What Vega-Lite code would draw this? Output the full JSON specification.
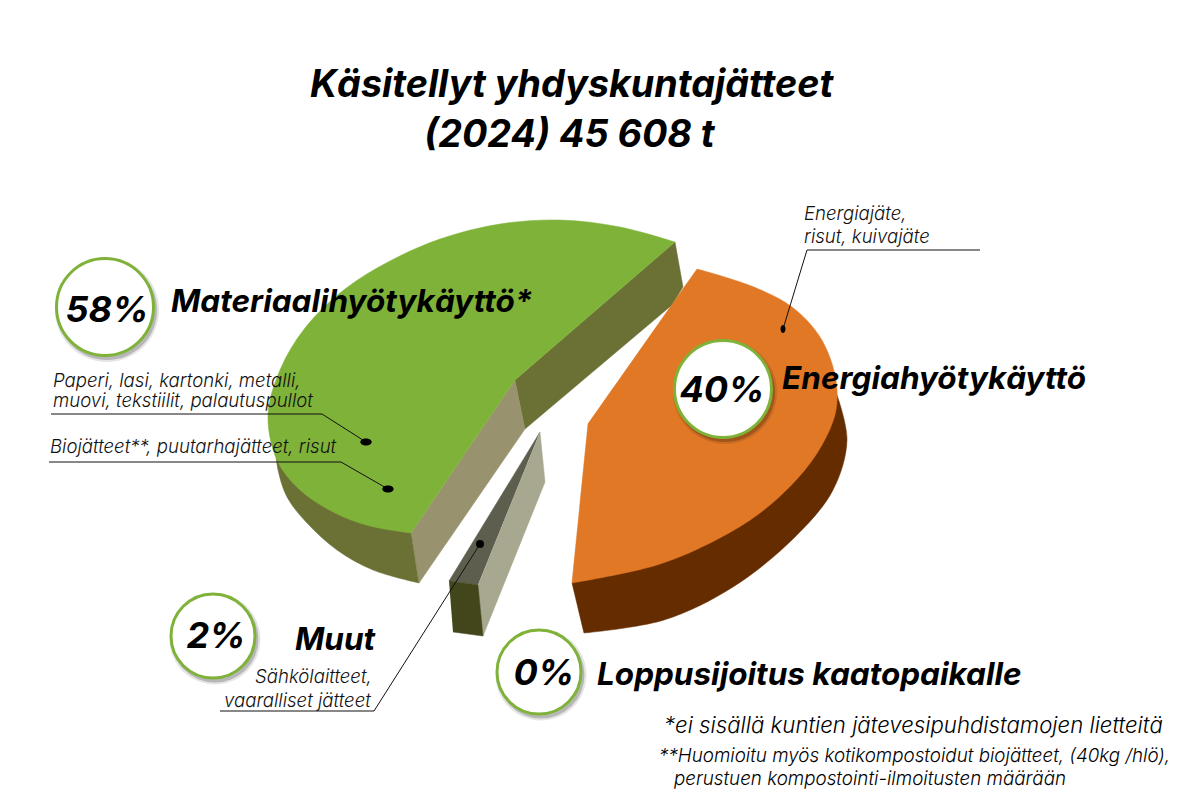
{
"$schema":"https://vega.github.io/schema/vega-lite/v6.json",
"width":1186,"height":806,"padding":0,"autosize":"none","background":"white",
"config":{"view":{"stroke":null}},
"datasets":{
"flats":[
{"part":"green cut front","seq":1,"px":411,"py":533},{"part":"green cut front","seq":2,"px":515,"py":380},{"part":"green cut front","seq":3,"px":525,"py":429},{"part":"green cut front","seq":4,"px":419,"py":583},
{"part":"green cut back","seq":1,"px":515,"py":380},{"part":"green cut back","seq":2,"px":675,"py":242},{"part":"green cut back","seq":3,"px":683,"py":287},{"part":"green cut back","seq":4,"px":672,"py":305},{"part":"green cut back","seq":5,"px":525,"py":429},
{"part":"sliver top","seq":1,"px":540,"py":432},{"part":"sliver top","seq":2,"px":449,"py":581},{"part":"sliver top","seq":3,"px":478,"py":585},
{"part":"sliver side","seq":1,"px":540,"py":432},{"part":"sliver side","seq":2,"px":545,"py":482},{"part":"sliver side","seq":3,"px":483,"py":636},{"part":"sliver side","seq":4,"px":478,"py":585},
{"part":"sliver front","seq":1,"px":449,"py":581},{"part":"sliver front","seq":2,"px":478,"py":585},{"part":"sliver front","seq":3,"px":483,"py":636},{"part":"sliver front","seq":4,"px":453,"py":632}
],
"polygons":[
{"part":"green side","seq":1,"px":276,"py":455},{"part":"green side","seq":2,"px":276,"py":455},{"part":"green side","seq":3,"px":276,"py":455},{"part":"green side","seq":4,"px":411,"py":533},{"part":"green side","seq":5,"px":411,"py":533},{"part":"green side","seq":6,"px":411,"py":533},{"part":"green side","seq":7,"px":419,"py":583},{"part":"green side","seq":8,"px":419,"py":583},{"part":"green side","seq":9,"px":419,"py":583},{"part":"green side","seq":10,"px":373,"py":570},{"part":"green side","seq":11,"px":337,"py":550},{"part":"green side","seq":12,"px":307,"py":523},{"part":"green side","seq":13,"px":287,"py":497},{"part":"green side","seq":14,"px":278,"py":470},{"part":"green side","seq":15,"px":276,"py":455},{"part":"green side","seq":16,"px":276,"py":455},
{"part":"green top","seq":1,"px":515,"py":380},{"part":"green top","seq":2,"px":515,"py":380},{"part":"green top","seq":3,"px":515,"py":380},{"part":"green top","seq":4,"px":675,"py":242},{"part":"green top","seq":5,"px":675,"py":242},{"part":"green top","seq":6,"px":675,"py":242},{"part":"green top","seq":7,"px":620,"py":227},{"part":"green top","seq":8,"px":560,"py":220},{"part":"green top","seq":9,"px":500,"py":224},{"part":"green top","seq":10,"px":440,"py":239},{"part":"green top","seq":11,"px":390,"py":261},{"part":"green top","seq":12,"px":345,"py":289},{"part":"green top","seq":13,"px":305,"py":328},{"part":"green top","seq":14,"px":280,"py":370},{"part":"green top","seq":15,"px":268,"py":415},{"part":"green top","seq":16,"px":277,"py":460},{"part":"green top","seq":17,"px":300,"py":490},{"part":"green top","seq":18,"px":335,"py":513},{"part":"green top","seq":19,"px":370,"py":526},{"part":"green top","seq":20,"px":411,"py":533},{"part":"green top","seq":21,"px":411,"py":533},{"part":"green top","seq":22,"px":411,"py":533},{"part":"green top","seq":23,"px":515,"py":380},{"part":"green top","seq":24,"px":515,"py":380},{"part":"green top","seq":25,"px":515,"py":380},
{"part":"orange side","seq":1,"px":572,"py":583},{"part":"orange side","seq":2,"px":572,"py":583},{"part":"orange side","seq":3,"px":572,"py":583},{"part":"orange side","seq":4,"px":584,"py":633},{"part":"orange side","seq":5,"px":584,"py":633},{"part":"orange side","seq":6,"px":584,"py":633},{"part":"orange side","seq":7,"px":664,"py":620},{"part":"orange side","seq":8,"px":733,"py":587},{"part":"orange side","seq":9,"px":795,"py":537},{"part":"orange side","seq":10,"px":833,"py":490},{"part":"orange side","seq":11,"px":847,"py":440},{"part":"orange side","seq":12,"px":837,"py":395},{"part":"orange side","seq":13,"px":837,"py":395},{"part":"orange side","seq":14,"px":837,"py":395},{"part":"orange side","seq":15,"px":572,"py":583},{"part":"orange side","seq":16,"px":572,"py":583},{"part":"orange side","seq":17,"px":572,"py":583},
{"part":"orange top","seq":1,"px":697,"py":269},{"part":"orange top","seq":2,"px":697,"py":269},{"part":"orange top","seq":3,"px":697,"py":269},{"part":"orange top","seq":4,"px":754,"py":287},{"part":"orange top","seq":5,"px":792,"py":307},{"part":"orange top","seq":6,"px":820,"py":337},{"part":"orange top","seq":7,"px":835,"py":375},{"part":"orange top","seq":8,"px":836,"py":410},{"part":"orange top","seq":9,"px":822,"py":445},{"part":"orange top","seq":10,"px":798,"py":478},{"part":"orange top","seq":11,"px":760,"py":513},{"part":"orange top","seq":12,"px":716,"py":540},{"part":"orange top","seq":13,"px":657,"py":565},{"part":"orange top","seq":14,"px":572,"py":583},{"part":"orange top","seq":15,"px":572,"py":583},{"part":"orange top","seq":16,"px":572,"py":583},{"part":"orange top","seq":17,"px":588,"py":424},{"part":"orange top","seq":18,"px":588,"py":424},{"part":"orange top","seq":19,"px":588,"py":424},{"part":"orange top","seq":20,"px":697,"py":269},{"part":"orange top","seq":21,"px":697,"py":269},{"part":"orange top","seq":22,"px":697,"py":269}
],
"leaders":[
{"id":"paperi","seq":1,"px":51,"py":414},{"id":"paperi","seq":2,"px":322,"py":414},{"id":"paperi","seq":3,"px":366,"py":442},
{"id":"bio","seq":1,"px":49,"py":462},{"id":"bio","seq":2,"px":341,"py":462},{"id":"bio","seq":3,"px":388,"py":489},
{"id":"muut","seq":1,"px":220,"py":711},{"id":"muut","seq":2,"px":374,"py":711},{"id":"muut","seq":3,"px":480,"py":544},
{"id":"energia","seq":1,"px":980,"py":250},{"id":"energia","seq":2,"px":807,"py":250},{"id":"energia","seq":3,"px":783,"py":329}
],
"dots":[{"id":"paperi","kind":"wide","px":366,"py":442},{"id":"bio","kind":"wide","px":388,"py":489},{"id":"muut","kind":"round","px":480,"py":544},{"id":"energia","kind":"tall","px":783,"py":329}],
"rings":[{"share":58,"kind":"big","px":105,"py":307},{"share":40,"kind":"big","px":723,"py":389},{"share":2,"kind":"small","px":213,"py":636},{"share":0,"kind":"small","px":539,"py":672}],
"labels":[
{"group":"title","text":"Käsitellyt yhdyskuntajätteet","px":310,"py":97},
{"group":"title","text":"(2024) 45 608 t","px":424,"py":147},
{"group":"head","text":"Materiaalihyötykäyttö*","px":171,"py":312},
{"group":"head","text":"Energiahyötykäyttö","px":782,"py":389},
{"group":"head","text":"Muut","px":295,"py":650},
{"group":"head","text":"Loppusijoitus kaatopaikalle","px":597,"py":685},
{"group":"pct","text":"58%","px":107,"py":322},
{"group":"pct","text":"40%","px":722,"py":402},
{"group":"pct","text":"2%","px":216,"py":648},
{"group":"pct","text":"0%","px":544,"py":685},
{"group":"sub","text":"Paperi, lasi, kartonki, metalli,","px":53,"py":387},
{"group":"sub","text":"muovi, tekstiilit, palautuspullot","px":53,"py":407},
{"group":"sub","text":"Biojätteet**, puutarhajätteet, risut","px":50,"py":453},
{"group":"sub","text":"Energiajäte,","px":804,"py":220},
{"group":"sub","text":"risut, kuivajäte","px":804,"py":243},
{"group":"sub","text":"Sähkölaitteet,","px":255,"py":683},
{"group":"sub","text":"vaaralliset jätteet","px":224,"py":707},
{"group":"note1","text":"*ei sisällä kuntien jätevesipuhdistamojen lietteitä","px":664,"py":733},
{"group":"note2","text":"**Huomioitu myös kotikompostoidut biojätteet, (40kg /hlö),","px":659,"py":762},
{"group":"note2","text":"perustuen kompostointi-ilmoitusten määrään","px":674,"py":785}
]},
"encoding":{
"x":{"field":"px","type":"quantitative","scale":{"domain":[0,1186],"range":[0,1186],"nice":false,"zero":false},"axis":null},
"y":{"field":"py","type":"quantitative","scale":{"domain":[806,0],"range":[806,0],"nice":false,"zero":false},"axis":null}
},
"layer":[
{"data":{"name":"flats"},"mark":{"type":"line","strokeWidth":0.5,"interpolate":"linear"},
 "encoding":{"order":{"field":"seq","type":"quantitative"},"detail":{"field":"part"},
 "fill":{"field":"part","type":"nominal","legend":null,"scale":{"domain":["green side","green cut front","green cut back","green top","orange side","orange top","sliver top","sliver side","sliver front"],"range":["#6b7135","#98926f","#6b7135","#7fb239","#652c00","#e07826","#5e5e4e","#a7a88f","#42461a"]}},
 "stroke":{"field":"part","type":"nominal","legend":null,"scale":{"domain":["green side","green cut front","green cut back","green top","orange side","orange top","sliver top","sliver side","sliver front"],"range":["#6b7135","#98926f","#6b7135","#7fb239","#652c00","#e07826","#5e5e4e","#a7a88f","#42461a"]}}}},
{"data":{"name":"polygons"},"mark":{"type":"line","strokeWidth":0.5,"interpolate":"catmull-rom"},
 "encoding":{"order":{"field":"seq","type":"quantitative"},"detail":{"field":"part"},
 "fill":{"field":"part","type":"nominal","legend":null,"scale":{"domain":["green side","green cut front","green cut back","green top","orange side","orange top","sliver top","sliver side","sliver front"],"range":["#6b7135","#98926f","#6b7135","#7fb239","#652c00","#e07826","#5e5e4e","#a7a88f","#42461a"]}},
 "stroke":{"field":"part","type":"nominal","legend":null,"scale":{"domain":["green side","green cut front","green cut back","green top","orange side","orange top","sliver top","sliver side","sliver front"],"range":["#6b7135","#98926f","#6b7135","#7fb239","#652c00","#e07826","#5e5e4e","#a7a88f","#42461a"]}}}},
{"data":{"name":"leaders"},"mark":{"type":"line","stroke":"#111111","strokeWidth":1},"encoding":{"order":{"field":"seq","type":"quantitative"},"detail":{"field":"id"}}},
{"data":{"name":"dots"},"transform":[{"filter":"datum.kind==='wide'"}],"mark":{"type":"point","filled":true,"color":"#000000","opacity":1,"size":130,"shape":"M-1,0A1,0.62,0,1,0,1,0A1,0.62,0,1,0,-1,0Z"}},
{"data":{"name":"dots"},"transform":[{"filter":"datum.kind==='round'"}],"mark":{"type":"point","filled":true,"color":"#000000","opacity":1,"size":64,"shape":"circle"}},
{"data":{"name":"dots"},"transform":[{"filter":"datum.kind==='tall'"}],"mark":{"type":"point","filled":true,"color":"#000000","opacity":1,"size":64,"shape":"M-0.62,0A0.62,1,0,1,0,0.62,0A0.62,1,0,1,0,-0.62,0Z"}},
{"data":{"name":"rings"},"transform":[{"filter":"datum.kind==='big'"}],"mark":{"type":"point","filled":true,"color":"#000000","opacity":0.1,"size":10816,"xOffset":2,"yOffset":3}},
{"data":{"name":"rings"},"transform":[{"filter":"datum.kind==='big'"}],"mark":{"type":"point","filled":true,"color":"#000000","opacity":0.2,"size":10000,"xOffset":2,"yOffset":3}},
{"data":{"name":"rings"},"transform":[{"filter":"datum.kind==='big'"}],"mark":{"type":"point","fill":"#ffffff","fillOpacity":1,"stroke":"#7fb239","strokeWidth":3,"strokeOpacity":1,"size":9409}},
{"data":{"name":"rings"},"transform":[{"filter":"datum.kind==='small'"}],"mark":{"type":"point","filled":true,"color":"#000000","opacity":0.1,"size":8281,"xOffset":2,"yOffset":3}},
{"data":{"name":"rings"},"transform":[{"filter":"datum.kind==='small'"}],"mark":{"type":"point","filled":true,"color":"#000000","opacity":0.2,"size":7569,"xOffset":2,"yOffset":3}},
{"data":{"name":"rings"},"transform":[{"filter":"datum.kind==='small'"}],"mark":{"type":"point","fill":"#ffffff","fillOpacity":1,"stroke":"#7fb239","strokeWidth":3,"strokeOpacity":1,"size":7056}},
{"data":{"name":"labels"},"transform":[{"filter":"datum.group==='title'"}],"mark":{"type":"text","align":"left","baseline":"alphabetic","font":"Inter","fontStyle":"italic","fontWeight":"bold","fontSize":37.7,"color":"#000000"},"encoding":{"text":{"field":"text"}}},
{"data":{"name":"labels"},"transform":[{"filter":"datum.group==='head'"}],"mark":{"type":"text","align":"left","baseline":"alphabetic","font":"Inter","fontStyle":"italic","fontWeight":"bold","fontSize":31.5,"color":"#000000"},"encoding":{"text":{"field":"text"}}},
{"data":{"name":"labels"},"transform":[{"filter":"datum.group==='pct'"}],"mark":{"type":"text","align":"center","baseline":"alphabetic","font":"Inter","fontStyle":"italic","fontWeight":"bold","fontSize":36,"color":"#000000"},"encoding":{"text":{"field":"text"}}},
{"data":{"name":"labels"},"transform":[{"filter":"datum.group==='sub'"}],"mark":{"type":"text","align":"left","baseline":"alphabetic","font":"Inter","fontStyle":"italic","fontWeight":300,"fontSize":18.6,"color":"#111111"},"encoding":{"text":{"field":"text"}}},
{"data":{"name":"labels"},"transform":[{"filter":"datum.group==='note1'"}],"mark":{"type":"text","align":"left","baseline":"alphabetic","font":"Inter","fontStyle":"italic","fontWeight":300,"fontSize":22.2,"color":"#000000"},"encoding":{"text":{"field":"text"}}},
{"data":{"name":"labels"},"transform":[{"filter":"datum.group==='note2'"}],"mark":{"type":"text","align":"left","baseline":"alphabetic","font":"Inter","fontStyle":"italic","fontWeight":300,"fontSize":18.8,"color":"#000000"},"encoding":{"text":{"field":"text"}}}
]}
